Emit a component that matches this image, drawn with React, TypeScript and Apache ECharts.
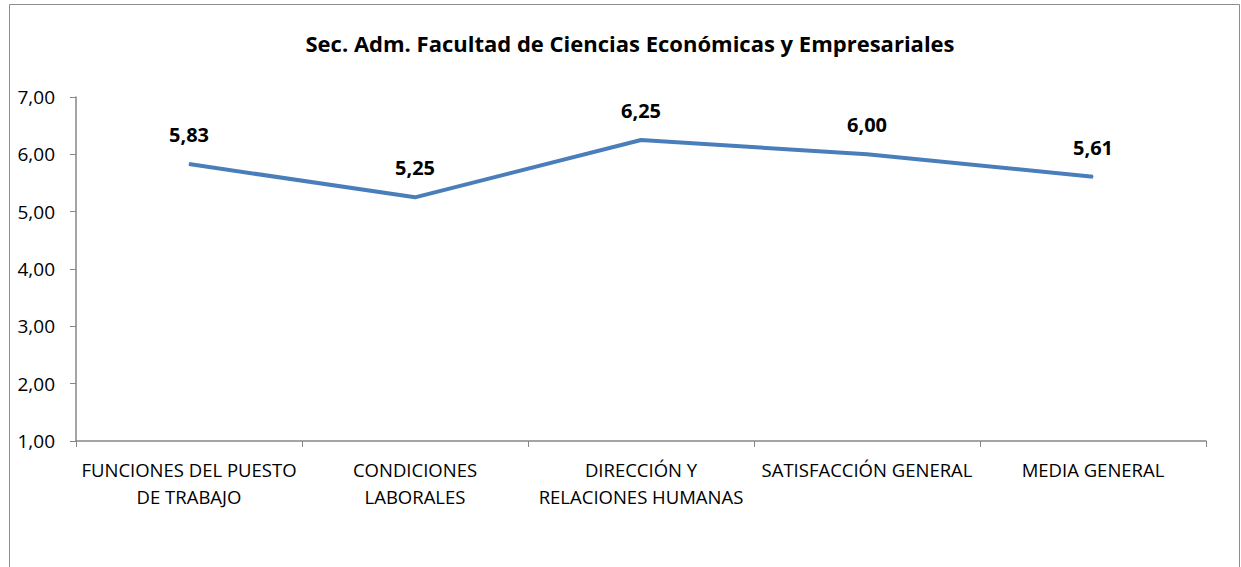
import React, { useEffect, useRef } from "react";
import * as echarts from "echarts";

const title = "Sec. Adm. Facultad de Ciencias Económicas y Empresariales";
const categories = [
  "FUNCIONES DEL PUESTO\nDE TRABAJO",
  "CONDICIONES\nLABORALES",
  "DIRECCIÓN Y\nRELACIONES HUMANAS",
  "SATISFACCIÓN GENERAL",
  "MEDIA GENERAL",
];
const values = [5.83, 5.25, 6.25, 6.0, 5.61];
const yMin = 1;
const yMax = 7;
const yInterval = 1;

const fmt = (v: number) => v.toFixed(2).replace(".", ",");
const FONT = "'Open Sans', 'Noto Sans', sans-serif";

export default function App() {
  const ref = useRef<HTMLDivElement>(null);
  useEffect(() => {
    if (!ref.current) return;
    const chart = echarts.init(ref.current, undefined, { renderer: "svg" });
    chart.setOption({
      animation: false,
      backgroundColor: "#ffffff",
      title: {
        text: title,
        left: 625,
        textAlign: "center",
        top: 27,
        textStyle: { fontFamily: FONT, fontSize: 22, fontWeight: "bold", color: "#000" },
      },
      graphic: [
        {
          type: "rect",
          shape: { x: 9.5, y: 4.5, width: 1230, height: 620 },
          style: { fill: "none", stroke: "#8c8c8c", lineWidth: 1 },
          silent: true,
        },
      ],
      grid: { left: 76, right: 35, top: 97, bottom: 126 },
      xAxis: {
        type: "category",
        data: categories,
        boundaryGap: true,
        axisLine: { lineStyle: { color: "#868686", width: 1.5 } },
        axisTick: { show: true, alignWithLabel: false, length: 6, lineStyle: { color: "#868686" } },
        axisLabel: {
          interval: 0,
          margin: 15,
          fontFamily: FONT,
          fontSize: 18.5,
          color: "#000",
          lineHeight: 27,
        },
      },
      yAxis: {
        type: "value",
        min: yMin,
        max: yMax,
        interval: yInterval,
        axisLine: { show: true, lineStyle: { color: "#868686", width: 1.5 } },
        axisTick: { show: true, length: 6, lineStyle: { color: "#868686" } },
        splitLine: { show: false },
        axisLabel: {
          formatter: (v: number) => fmt(v),
          margin: 21,
          fontFamily: FONT,
          fontSize: 19,
          color: "#000",
        },
      },
      series: [
        {
          type: "line",
          data: values,
          symbol: "circle",
          symbolSize: 1,
          itemStyle: { color: "#4a7ebb" },
          lineStyle: { color: "#4a7ebb", width: 4 },
          label: {
            show: true,
            position: "top",
            distance: 19,
            formatter: (p: any) => fmt(p.value),
            fontFamily: FONT,
            fontSize: 20,
            fontWeight: "bold",
            color: "#000",
          },
        },
      ],
    });
    return () => chart.dispose();
  }, []);
  return (
    <div
      ref={ref}
      style={{ position: "absolute", left: 0, top: 0, width: 1241, height: 567 }}
    />
  );
}
